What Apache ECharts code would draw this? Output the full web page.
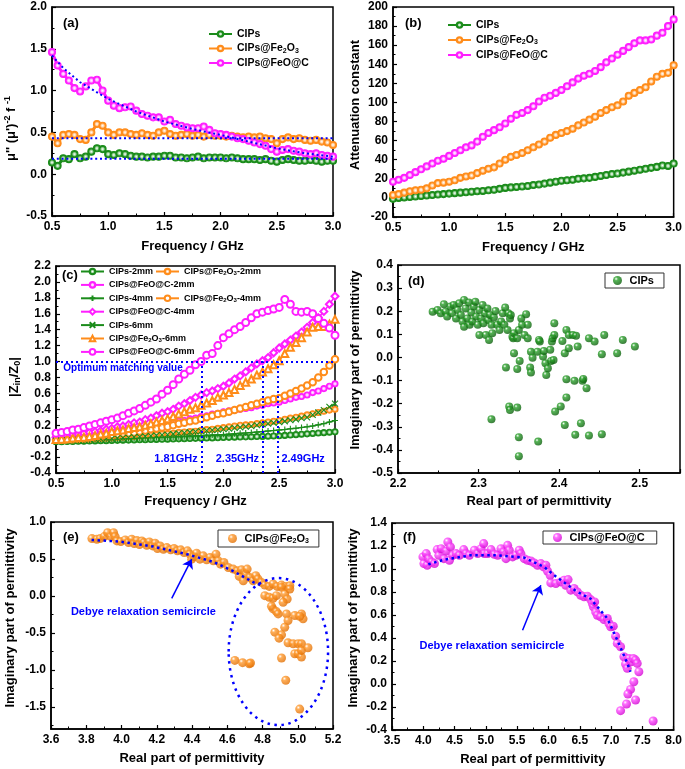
<!DOCTYPE html>
<html lang="en">
<head>
<meta charset="UTF-8">
<title>CIPs, CIPs@Fe2O3 and CIPs@FeO@C</title>
<script src="https://cdn.jsdelivr.net/npm/echarts@6.0.0/dist/echarts.min.js"></script>
<style>
    body { margin: 0; background: #fff; }
    #chart { width: 685px; height: 769px; }
</style>
</head>
<body>
<div id="chart"></div>
<script>
// frequency points shared by panels (a), (b), (c), GHz
const freq = [0.5,0.55,0.6,0.65,0.7,0.75,0.8,0.85,0.9,0.95,
    1.0,1.05,1.1,1.15,1.2,1.25,1.3,1.35,1.4,1.45,
    1.5,1.55,1.6,1.65,1.7,1.75,1.8,1.85,1.9,1.95,
    2.0,2.05,2.1,2.15,2.2,2.25,2.3,2.35,2.4,2.45,
    2.5,2.55,2.6,2.65,2.7,2.75,2.8,2.85,2.9,2.95,3.0];

// (a) mu''(mu')^-2 f^-1
const aCIPs = [0.14,0.10,0.19,0.18,0.24,0.19,0.21,0.27,0.31,0.30,
    0.24,0.23,0.25,0.24,0.22,0.21,0.21,0.20,0.21,0.21,
    0.22,0.22,0.20,0.20,0.19,0.20,0.21,0.19,0.20,0.20,
    0.20,0.19,0.20,0.19,0.18,0.18,0.18,0.17,0.18,0.16,
    0.15,0.17,0.18,0.17,0.16,0.16,0.17,0.16,0.15,0.16,0.16];
const aFe2O3 = [0.45,0.37,0.47,0.48,0.47,0.42,0.41,0.50,0.60,0.58,
    0.50,0.47,0.50,0.50,0.48,0.47,0.49,0.47,0.46,0.50,
    0.52,0.48,0.46,0.47,0.48,0.46,0.47,0.45,0.47,0.46,
    0.46,0.45,0.46,0.45,0.44,0.45,0.44,0.45,0.43,0.42,
    0.37,0.42,0.44,0.42,0.43,0.41,0.40,0.41,0.39,0.38,0.35];
const aFeOC = [1.46,1.30,1.20,1.12,1.03,0.99,1.05,1.12,1.13,1.00,
    0.88,0.82,0.79,0.80,0.81,0.76,0.72,0.70,0.68,0.68,
    0.63,0.65,0.60,0.58,0.56,0.55,0.55,0.57,0.53,0.49,
    0.48,0.47,0.45,0.43,0.42,0.40,0.38,0.36,0.34,0.30,
    0.27,0.29,0.30,0.28,0.27,0.25,0.24,0.25,0.23,0.22,0.21];
const aFlatX = [0.5, 3.0];
const aFlatCIPs = [0.185, 0.185];
const aFlatFe2O3 = [0.43, 0.43];
const aFitX = [0.5,0.6,0.75,1.0,1.25,1.5,1.75,2.0,2.25,2.5,2.75,3.0];
const aFitFeOC = [1.42,1.27,1.10,0.90,0.75,0.63,0.54,0.47,0.39,0.31,0.25,0.21];

// (b) attenuation constant
const bCIPs = [-1,0,0.5,1,1.5,2,2.5,3,3.5,4,
    4.5,5,5.5,6,6.5,7,7.3,8,8.5,9.5,
    10.5,11,11.5,12,12.5,13.5,14,15,16,17,
    18,18.5,19,20,20.5,21,22,23,24,25,
    25.5,26.5,27.5,28.5,29.5,30.5,31.5,32.5,34,33.5,36];
const bFe2O3 = [3,4,5.5,7,8,8.5,10,13,15.5,16,
    17,18.5,21,22.5,23.5,26,28.5,30.5,32,36,
    40,43,45,47,50,53,56,59,63,66,
    68,70,72.5,76,79,82,85,89,92,95,
    97,101,107,110,113,116,122,127,130,131,139];
const bFeOC = [17,19,21,24,27,30,33,36,39,41,
    44,47,50,53,55,59,64,68,71,74,
    78,83,87,89,92,96,101,105,107,110,
    113,117,121,125,128,130,133,137,142,146,
    150,154,158,162,165,165,166,170,173,180,187];

// (c) |Zin/Z0| for 2, 4, 6 mm
const c2CIPs = [-0.008,-0.007,-0.005,-0.004,-0.002,0,0.002,0.003,0.005,0.006,
    0.008,0.010,0.012,0.013,0.015,0.017,0.018,0.020,0.022,0.023,
    0.025,0.027,0.029,0.031,0.033,0.035,0.037,0.039,0.041,0.043,
    0.046,0.048,0.050,0.052,0.054,0.056,0.058,0.060,0.062,0.065,
    0.067,0.072,0.077,0.082,0.087,0.092,0.097,0.102,0.107,0.112,0.117];
const c4CIPs = [0.004,0.006,0.008,0.010,0.012,0.014,0.016,0.018,0.020,0.022,
    0.025,0.027,0.030,0.032,0.035,0.038,0.040,0.043,0.046,0.048,
    0.050,0.053,0.056,0.060,0.063,0.066,0.070,0.073,0.076,0.080,
    0.083,0.088,0.093,0.098,0.103,0.108,0.114,0.120,0.127,0.133,
    0.140,0.147,0.155,0.163,0.172,0.180,0.190,0.205,0.220,0.240,0.260];
const c6CIPs = [0.005,0.008,0.010,0.013,0.016,0.020,0.023,0.026,0.029,0.031,
    0.033,0.037,0.041,0.045,0.050,0.054,0.060,0.066,0.072,0.078,
    0.083,0.090,0.097,0.105,0.112,0.120,0.126,0.132,0.138,0.144,
    0.150,0.158,0.166,0.174,0.182,0.190,0.200,0.210,0.220,0.230,
    0.240,0.250,0.265,0.275,0.290,0.300,0.330,0.360,0.390,0.430,0.470];
const c2Fe2O3 = [0.010,0.012,0.014,0.016,0.018,0.020,0.025,0.030,0.033,0.036,
    0.040,0.045,0.050,0.055,0.060,0.065,0.070,0.077,0.083,0.090,
    0.095,0.100,0.110,0.115,0.120,0.125,0.135,0.145,0.150,0.160,
    0.170,0.180,0.190,0.200,0.205,0.210,0.220,0.230,0.240,0.250,
    0.260,0.275,0.290,0.300,0.315,0.330,0.345,0.360,0.375,0.390,0.400];
const c4Fe2O3 = [0.020,0.025,0.030,0.035,0.040,0.045,0.050,0.055,0.060,0.070,
    0.075,0.085,0.095,0.100,0.110,0.120,0.135,0.150,0.160,0.170,
    0.180,0.200,0.220,0.230,0.250,0.260,0.280,0.300,0.320,0.340,
    0.350,0.370,0.390,0.410,0.430,0.450,0.470,0.490,0.510,0.530,
    0.540,0.570,0.600,0.630,0.660,0.700,0.740,0.800,0.870,0.950,1.030];
const c6Fe2O3 = [0.020,0.025,0.030,0.040,0.045,0.050,0.060,0.070,0.090,0.100,
    0.120,0.130,0.140,0.160,0.170,0.180,0.200,0.220,0.240,0.260,
    0.280,0.310,0.340,0.370,0.400,0.420,0.450,0.480,0.510,0.550,
    0.580,0.610,0.650,0.700,0.740,0.780,0.830,0.870,0.910,0.960,
    1.010,1.100,1.180,1.240,1.300,1.370,1.430,1.440,1.440,1.470,1.530];
const c2FeOC = [0.040,0.045,0.050,0.060,0.070,0.075,0.085,0.090,0.100,0.110,
    0.120,0.130,0.140,0.150,0.155,0.160,0.175,0.190,0.200,0.210,
    0.220,0.240,0.250,0.260,0.280,0.290,0.310,0.320,0.340,0.350,
    0.370,0.380,0.390,0.400,0.410,0.420,0.440,0.450,0.470,0.480,
    0.490,0.510,0.530,0.550,0.560,0.580,0.610,0.630,0.660,0.690,0.720];
const c4FeOC = [0.05,0.06,0.07,0.08,0.09,0.10,0.11,0.12,0.13,0.15,
    0.16,0.18,0.19,0.21,0.23,0.24,0.27,0.29,0.32,0.35,
    0.37,0.40,0.44,0.47,0.51,0.55,0.58,0.61,0.63,0.66,
    0.69,0.73,0.78,0.82,0.87,0.92,0.97,1.01,1.05,1.11,
    1.17,1.22,1.27,1.32,1.37,1.43,1.49,1.55,1.63,1.72,1.82];
const c6FeOC = [0.10,0.11,0.12,0.14,0.15,0.17,0.19,0.21,0.23,0.25,
    0.27,0.29,0.32,0.35,0.38,0.41,0.45,0.49,0.53,0.59,
    0.64,0.71,0.78,0.84,0.89,0.96,1.00,1.08,1.10,1.20,
    1.30,1.35,1.40,1.44,1.49,1.55,1.60,1.62,1.64,1.66,
    1.68,1.78,1.72,1.63,1.62,1.63,1.60,1.54,1.48,1.42,1.33];
const cMatchFreqs = [1.81, 2.35, 2.49];

// (d) Cole-Cole plot, CIPs
const dRe = [2.243,2.249,2.253,2.257,2.259,2.261,2.265,2.267,2.269,2.272,
    2.274,2.276,2.278,2.280,2.282,2.282,2.284,2.286,2.288,2.289,
    2.291,2.292,2.294,2.296,2.297,2.299,2.301,2.301,2.303,2.305,
    2.306,2.308,2.309,2.311,2.312,2.313,2.314,2.316,2.317,2.319,
    2.321,2.323,2.326,2.328,2.330,2.332,2.333,2.336,2.337,2.339,
    2.340,2.342,2.343,2.344,2.348,2.350,2.353,2.354,2.357,2.359,
    2.361,2.361,
    2.344,2.334,2.348,2.351,2.316,2.338,2.339,2.348,2.350,2.350,
    2.374,2.365,2.373,2.364,2.365,2.367,2.375,2.376,2.380,2.381,
    2.383,2.384,2.386,2.389,2.390,2.391,2.392,2.393,2.394,2.394,
    2.395,2.402,2.404,2.407,2.407,2.409,2.409,2.409,2.412,2.412,
    2.417,2.419,2.420,2.421,2.423,2.427,2.429,2.430,2.434,2.437,
    2.437,2.444,2.453,2.453,2.456,2.472,2.479,2.494];
const dIm = [0.198,0.205,0.191,0.230,0.198,0.177,0.220,0.191,0.227,0.169,
    0.205,0.234,0.184,0.155,0.249,0.133,0.212,0.169,0.238,0.141,
    0.195,0.155,0.220,0.241,0.177,0.141,0.205,0.097,0.169,0.227,
    0.148,0.191,0.097,0.212,0.162,0.076,0.184,0.141,0.105,0.173,
    0.201,0.141,0.119,0.155,0.191,0.141,0.216,0.119,0.191,0.169,
    0.184,0.090,0.083,0.105,0.083,0.119,0.169,0.141,0.097,0.187,
    0.083,0.141,
    0.018,-0.044,-0.050,-0.015,-0.267,-0.212,-0.227,-0.217,-0.345,-0.427,
    -0.364,0.025,0.025,-0.044,-0.065,-0.001,0.076,0.069,0.004,0.028,
    -0.025,-0.076,-0.047,0.033,-0.015,0.069,0.083,-0.011,0.148,0.097,
    -0.234,-0.212,0.071,0.018,-0.292,-0.173,-0.094,0.119,0.040,0.097,
    0.097,-0.101,-0.335,0.094,0.047,-0.285,-0.101,-0.093,-0.133,0.083,
    -0.338,0.069,-0.332,0.014,0.097,0.018,0.076,0.047];

// (e) Cole-Cole plot, CIPs@Fe2O3
const eRe = [3.832,3.860,3.879,3.902,3.921,3.940,3.955,3.964,3.974,3.996,
    4.021,4.040,4.058,4.072,4.087,4.102,4.115,4.128,4.143,4.158,
    4.177,4.191,4.204,4.219,4.238,4.257,4.279,4.298,4.317,4.336,
    4.355,4.374,4.389,4.398,4.411,4.426,4.445,4.464,4.483,4.502,
    4.521,4.536,4.549,4.562,4.581,4.606,4.634,4.657,4.668,4.681,
    4.691,4.706,4.713,4.728,4.747,4.762,4.775,4.794,4.813,4.838,
    4.860,4.883,4.908,4.932,4.955,
    4.813,4.838,4.860,4.879,4.908,4.926,4.940,4.955,4.917,4.860,
    4.851,4.879,4.889,4.936,4.983,5.021,5.030,5.011,4.945,4.926,
    4.870,4.908,4.894,4.945,4.974,5.002,5.021,4.983,5.002,5.021,
    5.021,5.058,4.908,4.643,4.687,4.725,4.732,4.932,5.011];
const eIm = [0.776,0.767,0.776,0.803,0.856,0.803,0.856,0.803,0.744,0.735,
    0.758,0.722,0.767,0.708,0.749,0.695,0.744,0.722,0.686,0.731,
    0.677,0.713,0.641,0.677,0.632,0.654,0.623,0.641,0.610,0.623,
    0.587,0.610,0.565,0.497,0.533,0.578,0.497,0.542,0.488,0.520,
    0.475,0.565,0.475,0.430,0.452,0.385,0.363,0.340,0.264,0.354,
    0.206,0.295,0.363,0.250,0.206,0.273,0.228,0.183,0.147,0.129,
    0.161,0.129,0.147,0.129,0.138,
    0.004,-0.019,-0.032,0.004,0.116,0.026,-0.041,0.093,-0.086,-0.176,
    -0.140,-0.212,-0.243,-0.243,-0.265,-0.243,-0.310,-0.275,-0.333,-0.423,
    -0.490,-0.526,-0.571,-0.634,-0.647,-0.647,-0.647,-0.782,-0.782,-0.827,
    -0.737,-0.701,-0.840,-0.872,-0.903,-0.917,-0.908,-1.141,-1.531];
const eFitRe = [3.83,3.99,4.18,4.37,4.52,4.63,4.75,4.80];
const eFitIm = [0.758,0.735,0.668,0.565,0.461,0.340,0.183,0.138];
const eArrow = [[4.285, -0.032], [4.398, 0.497]];
const eRing = {cx: 4.89, cy: -0.753, left: 4.608, right: 5.172, top: 0.241, bottom: -1.747};

// (f) Cole-Cole plot, CIPs@FeO@C
const fRe = [3.994,4.010,4.047,4.063,4.084,4.137,4.179,4.222,4.248,4.286,
    4.328,4.365,4.392,4.418,4.434,4.471,4.524,4.577,4.646,4.684,
    4.737,4.816,4.869,4.923,4.965,4.976,5.029,5.082,5.135,5.188,
    5.241,5.283,5.321,5.347,5.374,5.427,5.480,5.533,5.559,5.613,
    5.666,5.719,5.772,5.825,5.878,5.920,5.958,5.984,6.027,6.037,
    6.117,6.196,6.249,6.276,6.313,6.356,6.409,6.462,6.515,6.568,
    6.621,6.674,6.701,6.717,6.738,6.754,6.780,6.833,6.886,6.940,
    6.966,6.993,7.035,7.072,7.099,7.152,7.205,7.231,7.258,7.285,
    7.322,7.354,7.391,7.418,7.444,7.364,7.311,7.269,7.247,7.152,
    7.391,7.672];
const fIm = [1.105,1.047,1.134,1.033,1.090,1.061,1.047,1.169,1.119,1.177,
    1.090,1.157,1.235,1.076,1.192,1.119,1.134,1.119,1.169,1.134,
    1.119,1.163,1.134,1.177,1.221,1.134,1.134,1.169,1.128,1.119,
    1.177,1.148,1.090,1.206,1.163,1.105,1.119,1.163,1.134,1.090,
    1.076,1.070,1.053,1.033,1.047,1.018,1.033,0.983,0.946,0.879,
    0.873,0.888,0.902,0.859,0.908,0.816,0.830,0.801,0.772,0.758,
    0.763,0.734,0.700,0.671,0.714,0.627,0.598,0.584,0.561,0.570,
    0.526,0.497,0.503,0.416,0.353,0.324,0.237,0.173,0.136,0.222,
    0.193,0.222,0.208,0.179,0.107,0.020,-0.047,-0.087,-0.174,-0.232,
    -0.139,-0.322];
const fFitRe = [4.08,4.34,4.76,5.19,5.61,5.93,6.06,6.20,6.46,6.67,6.94,7.10,7.26,7.31];
const fFitIm = [1.041,1.082,1.119,1.119,1.099,1.018,0.960,0.902,0.801,0.743,0.570,0.381,0.179,0.107];
const fArrow = [[5.586, 0.468], [5.878, 0.859]];

const FONT = '"Liberation Sans", Arial, Helvetica, sans-serif';
const GREEN = '#1b8c1b', ORANGE = '#ff8c1a', MAGENTA = '#ff1eff', BLUE = '#0000ff';

function merge(a, b) {
    for (const k in b) {
        if (b[k] && typeof b[k] === 'object' && !Array.isArray(b[k]) && a[k] && typeof a[k] === 'object') merge(a[k], b[k]);
        else a[k] = b[k];
    }
    return a;
}
function pairs(xs, ys) { return xs.map((x, i) => [x, ys[i]]); }
function fmt1(v) { return Math.abs(v) < 1e-9 ? '0.0' : v.toFixed(1); }

// symbol fills: pale centre for line markers, shaded ball for scatter
function ring(c, tint) {
    return {type: 'radial', x: 0.5, y: 0.5, r: 0.5,
        colorStops: [{offset: 0, color: '#ffffff'}, {offset: 0.35, color: tint}, {offset: 0.65, color: c}, {offset: 1, color: c}]};
}
function ball(c, dark) {
    return {type: 'radial', x: 0.35, y: 0.32, r: 0.72,
        colorStops: [{offset: 0, color: '#ffffff'}, {offset: 0.28, color: c}, {offset: 1, color: dark}]};
}
const G_RING = ring(GREEN, '#9fd49f'), O_RING = ring(ORANGE, '#ffd2a6'), M_RING = ring(MAGENTA, '#ffb3ff');

function axis(g, min, max, step, name, gap, extra) {
    return merge({
        type: 'value', gridIndex: g, min: min, max: max, interval: step,
        name: name, nameLocation: 'middle', nameGap: gap,
        nameTextStyle: {fontFamily: FONT, fontWeight: 'bold', fontSize: 13, color: '#000'},
        axisLine: {show: true, onZero: false, lineStyle: {color: '#000', width: 1.5}},
        axisTick: {show: true, inside: true, length: 4, lineStyle: {color: '#000', width: 1.2}},
        minorTick: {show: true, splitNumber: 2, length: 2.5, lineStyle: {color: '#000', width: 1}},
        splitLine: {show: false},
        axisLabel: {color: '#000', fontFamily: FONT, fontWeight: 'bold', fontSize: 12, margin: 5, formatter: fmt1}
    }, extra || {});
}

const subRich = (size) => ({
    s: {fontFamily: FONT, fontWeight: 'bold', fontSize: Math.round(size * 0.68), color: '#000', verticalAlign: 'bottom', lineHeight: 4},
    p: {fontFamily: FONT, fontWeight: 'bold', fontSize: Math.round(size * 0.68), color: '#000', verticalAlign: 'top', lineHeight: 4}
});
const legendText = (n) => n.replace(/ \([a-f]\)$/, '').replace('Fe2O3', 'Fe{s|2}O{s|3}');

function legendAt(names, left, top, size, extra) {
    return merge({
        data: names, left: left, top: top, orient: 'vertical', padding: 0,
        itemWidth: 23, itemHeight: 7, itemGap: 3, selectedMode: false,
        textStyle: {fontFamily: FONT, fontWeight: 'bold', fontSize: size, color: '#000',
            lineHeight: Math.round(size * 1.15), rich: subRich(size)},
        formatter: legendText
    }, extra || {});
}

const grids = [
    {left: 52, top: 7, width: 281, height: 209},
    {left: 393, top: 7, width: 282, height: 210},
    {left: 56, top: 266, width: 279, height: 207},
    {left: 398, top: 265, width: 282, height: 208},
    {left: 51, top: 522, width: 282, height: 207},
    {left: 392, top: 523, width: 283, height: 207}
].map(g => Object.assign(g, {show: true, borderColor: '#000', borderWidth: 1.5, backgroundColor: 'transparent'}));

const yNameA = "\u03bc'' (\u03bc'){p|-2} f {p|-1}";
const xAxes = [
    axis(0, 0.5, 3.0, 0.5, 'Frequency / GHz', 24),
    axis(1, 0.5, 3.0, 0.5, 'Frequency / GHz', 24),
    axis(2, 0.5, 3.0, 0.5, 'Frequency / GHz', 22),
    axis(3, 2.2, 2.55, 0.1, 'Real part of permittivity', 22, {axisLabel: {showMaxLabel: false}}),
    axis(4, 3.6, 5.2, 0.2, 'Real part of permittivity', 22.5),
    axis(5, 3.5, 8.0, 0.5, 'Real part of permittivity', 23)
];
const yAxes = [
    axis(0, -0.5, 2.0, 0.5, yNameA, 33.5, {nameTextStyle: {lineHeight: 15, padding: [0, 34, 0, 0], rich: subRich(13)}}),
    axis(1, -20, 200, 20, 'Attenuation constant', 31.5, {axisLabel: {formatter: v => String(v)}, nameTextStyle: {padding: [0, 0, 0, 14]}}),
    axis(2, -0.4, 2.2, 0.2, '|Z{s|in}/Z{s|0}|', 34, {nameTextStyle: {lineHeight: 15, padding: [0, 15, 0, 0], rich: subRich(13)}}),
    axis(3, -0.5, 0.4, 0.1, 'Imaginary part of permittivity', 36, {nameTextStyle: {padding: [0, 0, 0, 18]}}),
    axis(4, -1.8, 1.0, 0.5, 'Imaginary part of permittivity', 34, {
        axisLabel: {customValues: [-1.5, -1.0, -0.5, 0, 0.5, 1.0]},
        axisTick: {customValues: [-1.5, -1.0, -0.5, 0, 0.5, 1.0]},
        minorTick: {show: false}, nameTextStyle: {padding: [0, 0, 0, 15]}}),
    axis(5, -0.4, 1.4, 0.2, 'Imaginary part of permittivity', 32.5, {nameTextStyle: {padding: [0, 0, 0, 17]}}),
    // extra axis only for the minor ticks of panel (e)
    {type: 'value', gridIndex: 4, min: -1.8, max: 1.0, position: 'left', offset: 0,
        axisLine: {show: false}, axisLabel: {show: false}, splitLine: {show: false},
        axisTick: {show: true, inside: true, length: 2.5, lineStyle: {color: '#000', width: 1},
            customValues: [-1.75, -1.25, -0.75, -0.25, 0.25, 0.75]}}
];

const series = [];
const firstOfGrid = {};
function add(s, g) {
    if (firstOfGrid[g] === undefined) firstOfGrid[g] = series.length;
    series.push(Object.assign({xAxisIndex: g, yAxisIndex: g, animation: false, emphasis: {disabled: true}, silent: true}, s));
}
function curve(name, g, ys, color, symbol, size, fill, lw) {
    add({
        name: name, type: 'line', data: pairs(freq, ys), symbol: symbol, symbolSize: size, showAllSymbol: true,
        lineStyle: {color: color, width: lw || 1.5},
        itemStyle: {color: fill, borderColor: color, borderWidth: 1.1}
    }, g);
}
function dotted(g, xs, ys, w) {
    add({name: 'fit', type: 'line', data: pairs(xs, ys), symbol: 'none', z: 5,
        lineStyle: {color: BLUE, width: w, type: [w, w * 1.4]}}, g);
}

// (a)
curve('CIPs', 0, aCIPs, GREEN, 'circle', 7, G_RING, 3);
curve('CIPs@Fe2O3', 0, aFe2O3, ORANGE, 'circle', 7, O_RING, 3);
curve('CIPs@FeO@C', 0, aFeOC, MAGENTA, 'circle', 7, M_RING, 3);
dotted(0, aFlatX, aFlatCIPs, 2);
dotted(0, aFlatX, aFlatFe2O3, 2);
dotted(0, aFitX, aFitFeOC, 2);

// (b)
curve('CIPs', 1, bCIPs, GREEN, 'circle', 7, G_RING, 3);
curve('CIPs@Fe2O3', 1, bFe2O3, ORANGE, 'circle', 7, O_RING, 3);
curve('CIPs@FeO@C', 1, bFeOC, MAGENTA, 'circle', 7, M_RING, 3);

// (c)
const PLUS = 'path://M5,0L5,10M0,5L10,5';
const CROSS = 'path://M0,0L10,10M10,0L0,10';
curve('CIPs-2mm', 2, c2CIPs, GREEN, 'circle', 6, G_RING, 2.5);
curve('CIPs@Fe2O3-2mm', 2, c2Fe2O3, ORANGE, 'circle', 6, O_RING, 2.5);
curve('CIPs@FeO@C-2mm', 2, c2FeOC, MAGENTA, 'circle', 6, M_RING, 2.5);
curve('CIPs-4mm', 2, c4CIPs, GREEN, PLUS, 6, GREEN);
curve('CIPs@Fe2O3-4mm', 2, c4Fe2O3, ORANGE, 'emptyCircle', 6.5, ORANGE);
curve('CIPs@FeO@C-4mm', 2, c4FeOC, MAGENTA, 'emptyDiamond', 7, MAGENTA);
curve('CIPs-6mm', 2, c6CIPs, GREEN, CROSS, 6, GREEN);
curve('CIPs@Fe2O3-6mm', 2, c6Fe2O3, ORANGE, 'emptyTriangle', 7, ORANGE);
curve('CIPs@FeO@C-6mm', 2, c6FeOC, MAGENTA, 'emptyCircle', 7, MAGENTA);
const dotStyle = {color: BLUE, width: 2, type: [2, 3]};
series[firstOfGrid[2]].markLine = {
    silent: true, symbol: 'none', animation: false, label: {show: false}, lineStyle: dotStyle,
    data: [[{coord: [0.5, 1.0]}, {coord: [3.0, 1.0]}]].concat(
        cMatchFreqs.map(f => [{coord: [f, -0.4]}, {coord: [f, 1.0]}]))
};

// (d), (e), (f)
add({name: 'CIPs (d)', type: 'scatter', data: pairs(dRe, dIm), symbolSize: 8,
    itemStyle: {color: ball('#2aa02a', '#0b5e0b')}}, 3);
add({name: 'CIPs@Fe2O3 (e)', type: 'scatter', data: pairs(eRe, eIm), symbolSize: 9,
    itemStyle: {color: ball('#ff9a2e', '#e06d00')}}, 4);
dotted(4, eFitRe, eFitIm, 2.5);
add({name: 'CIPs@FeO@C (f)', type: 'scatter', data: pairs(fRe, fIm), symbolSize: 9,
    itemStyle: {color: ball('#ff4dff', '#d000d0')}}, 5);
dotted(5, fFitRe, fFitIm, 2.5);

const arrowLine = (pts) => ({
    silent: true, symbol: ['none', 'arrow'], symbolSize: [9, 9], animation: false, label: {show: false},
    lineStyle: {color: BLUE, width: 1.5, type: 'solid'},
    data: [[{coord: pts[0]}, {coord: pts[1]}]]
});
series[firstOfGrid[4]].markLine = arrowLine(eArrow);
series[firstOfGrid[5]].markLine = arrowLine(fArrow);

const boxed = {borderColor: '#333', borderWidth: 1, itemWidth: 14, itemHeight: 9};
const rowY = (i) => 266.5 + i * 13.4;
const legends = [
    legendAt(['CIPs', 'CIPs@Fe2O3', 'CIPs@FeO@C'], 208, 28, 10.5, {itemGap: 2.5}),
    legendAt(['CIPs', 'CIPs@Fe2O3', 'CIPs@FeO@C'], 447, 19, 10.5, {itemGap: 3}),
    legendAt(['CIPs-2mm'], 80, rowY(0), 9),
    legendAt(['CIPs@Fe2O3-2mm'], 155, rowY(0), 9),
    legendAt(['CIPs@FeO@C-2mm'], 80, rowY(1), 9),
    legendAt(['CIPs-4mm'], 80, rowY(2), 9),
    legendAt(['CIPs@Fe2O3-4mm'], 155, rowY(2), 9),
    legendAt(['CIPs@FeO@C-4mm'], 80, rowY(3), 9),
    legendAt(['CIPs-6mm'], 80, rowY(4), 9),
    legendAt(['CIPs@Fe2O3-6mm'], 80, rowY(5), 9),
    legendAt(['CIPs@FeO@C-6mm'], 80, rowY(6), 9),
    legendAt(['CIPs (d)'], 605, 273, 11, Object.assign({padding: [1, 10, 1, 8]}, boxed)),
    legendAt(['CIPs@Fe2O3 (e)'], 218, 530, 11, Object.assign({padding: [2, 10, 2, 10]}, boxed)),
    legendAt(['CIPs@FeO@C (f)'], 543, 531, 11, Object.assign({padding: [0, 12, 0, 10]}, boxed))
];

const chart = echarts.init(document.getElementById('chart'));
chart.setOption({
    animation: false,
    backgroundColor: '#fff',
    grid: grids,
    xAxis: xAxes,
    yAxis: yAxes,
    legend: legends,
    series: series
});

// annotations placed through the axes of each panel
const px = (g, x, y) => chart.convertToPixel({seriesIndex: firstOfGrid[g]}, [x, y]);
function note(g, text, x, y, align, size) {
    const p = px(g, x, y);
    return {type: 'text', x: p[0], y: p[1], silent: true, z: 20,
        style: {text: text, fill: BLUE, font: 'bold ' + size + 'px ' + FONT,
            align: align, textAlign: align, verticalAlign: 'middle', textVerticalAlign: 'middle'}};
}
const panelLabels = [['(a)', 63, 23], ['(b)', 405, 23], ['(c)', 62, 275.5], ['(d)', 408, 281.5], ['(e)', 63, 537], ['(f)', 403, 537]];
const graphics = panelLabels.map(l => ({type: 'text', x: l[1], y: l[2], silent: true, z: 20,
    style: {text: l[0], fill: '#000', font: 'bold 13px ' + FONT, align: 'left', textAlign: 'left', verticalAlign: 'middle', textVerticalAlign: 'middle'}}));
graphics.push(note(2, 'Optimum matching value', 0.565, 0.91, 'left', 10));
graphics.push(note(2, '1.81GHz', 1.77, -0.23, 'right', 11));
graphics.push(note(2, '2.35GHz', 2.32, -0.23, 'right', 11));
graphics.push(note(2, '2.49GHz', 2.52, -0.23, 'left', 11));
graphics.push(note(4, 'Debye relaxation semicircle', 3.713, -0.212, 'left', 11));
graphics.push(note(5, 'Debye relaxation semicircle', 3.94, 0.332, 'left', 11));
const c0 = px(4, eRing.cx, eRing.cy), cL = px(4, eRing.left, eRing.cy), cR = px(4, eRing.right, eRing.cy);
const cT = px(4, eRing.cx, eRing.top), cB = px(4, eRing.cx, eRing.bottom);
graphics.push({type: 'ellipse', silent: true, z: 20,
    shape: {cx: c0[0], cy: c0[1], rx: (cR[0] - cL[0]) / 2, ry: (cB[1] - cT[1]) / 2},
    style: {fill: null, stroke: BLUE, lineWidth: 2.5, lineDash: [2.5, 4.5]}});
chart.setOption({graphic: graphics});
</script>
</body>
</html>
